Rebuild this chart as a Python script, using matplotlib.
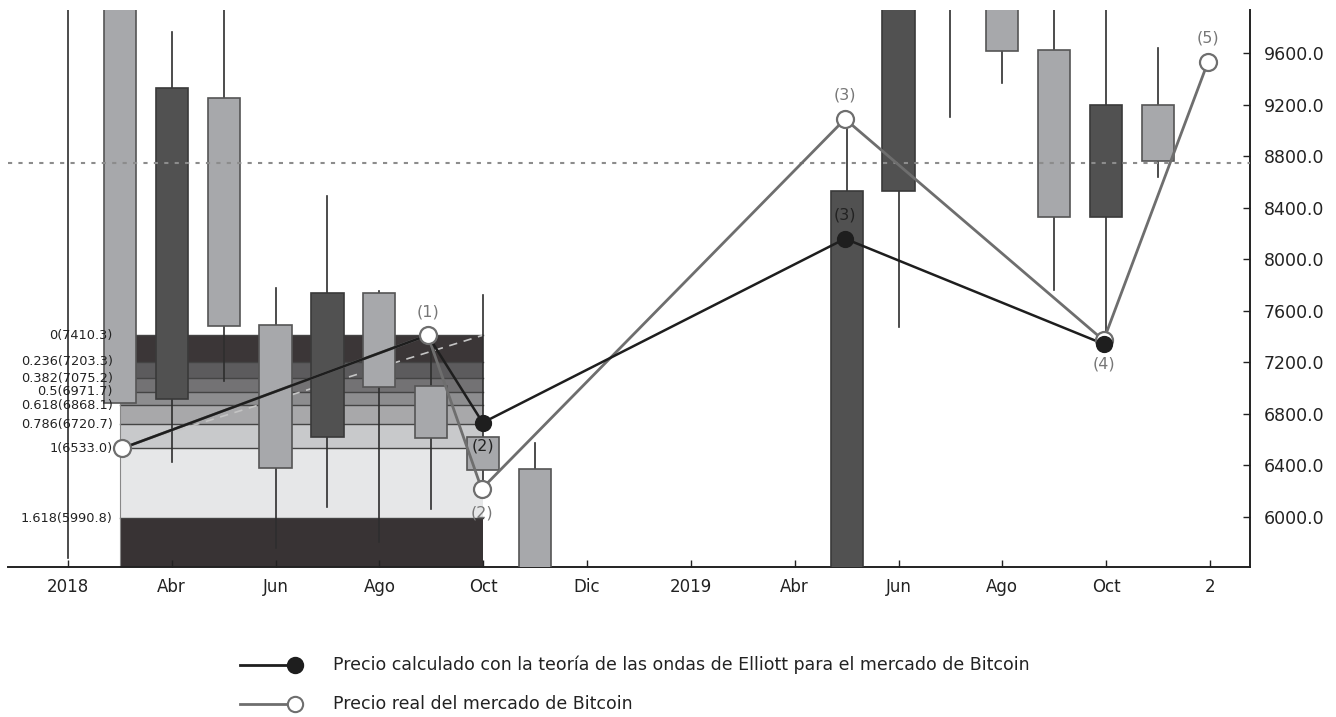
import matplotlib.pyplot as plt
from matplotlib.lines import Line2D
from matplotlib.patches import Rectangle

# monthly candles, index 0 = first month on the axis
opens = [10221, 10397, 6915, 9248, 7489, 6618, 7735, 7018, 6622, 6375, 4017,
         3742, 3460, 3850, 4100, 5350, 8529, 10820, 10080, 9626, 8325, 9196]
highs = [11958, 11700, 9763, 10020, 7776, 8493, 7756, 7410, 7722, 6574, 4300,
         4100, 4200, 4150, 5600, 9090, 13800, 13100, 12300, 10900, 10370, 9640]
lows = [5680, 6886, 6429, 7055, 5761, 6073, 5808, 6060, 6200, 3650, 3200,
        3350, 3400, 3700, 4050, 5330, 7476, 9106, 9365, 7761, 7330, 8640]
closes = [10397, 6886, 9331, 7482, 6382, 7740, 7006, 6612, 6364, 4017, 3742,
          3460, 3850, 4100, 5350, 8529, 10820, 10080, 9616, 8325, 9196, 8762]

tick_pos = [0, 2, 4, 6, 8, 10, 12, 14, 16, 18, 20, 22]
tick_labels = ["2018", "Abr", "Jun", "Ago", "Oct", "Dic", "2019", "Abr", "Jun", "Ago", "Oct", "2"]
y_ticks = [6000, 6400, 6800, 7200, 7600, 8000, 8400, 8800, 9200, 9600]

# fibonacci retracement drawn between candle 1 and candle 8
fib_ratios = ["0", "0.236", "0.382", "0.5", "0.618", "0.786", "1", "1.618"]
fib_levels = [7410.3, 7203.3, 7075.2, 6971.7, 6868.1, 6720.7, 6533.0, 5990.8]
fib_colors = ["#3b3637", "#5c5b5d", "#737274", "#8d8d8f", "#a8a8aa", "#c8c9cb", "#e6e7e8", "#383334"]
fib_start, fib_end = 1, 8

ref_level = 8750

# Elliott wave points
calc_x = [1.05, 6.93, 7.99, 14.97, 19.95]
calc_y = [6533.0, 7410.3, 6731, 8159, 7342]
real_x = [1.05, 6.93, 7.97, 14.97, 19.95, 21.96]
real_y = [6533.0, 7410.3, 6217, 9088, 7370, 9530]
real_labels = ["", "(1)", "(2)", "(3)", "(4)", "(5)"]
calc_labels = ["", "", "(2)", "(3)", ""]

YLIM = (5611, 9934)
XLIM = (-1.154, 22.77)

LIGHT, DARK = "#a7a8ab", "#515151"
GREY_LINE = "#6e6e6e"

fig = plt.figure(figsize=(13.36, 7.17), dpi=100)
ax = fig.add_axes([8 / 1336, 1 - 567 / 717, (1250 - 8) / 1336, (567 - 10) / 717])
ax.set_xlim(*XLIM)
ax.set_ylim(*YLIM)

# fib bands
bounds = fib_levels + [YLIM[0]]
for i in range(len(fib_levels)):
    ax.fill_between([fib_start, fib_end], bounds[i + 1], bounds[i],
                    color=fib_colors[i], lw=0, zorder=1)
    ax.plot([fib_start, fib_end], [fib_levels[i]] * 2, color="#444444", lw=1, zorder=1.5)
    ax.annotate(f"{fib_ratios[i]}({fib_levels[i]:.1f})", (fib_start, fib_levels[i]),
                xytext=(-5, 0), textcoords="offset points", ha="right", va="center",
                fontsize=9.3, color="#222222", zorder=6)
ax.plot([fib_start, fib_start], [YLIM[0], fib_levels[0]], color="#888888", lw=0.8, zorder=1.5)
ax.plot([fib_start, fib_end], [fib_levels[6], fib_levels[0]], color="#c4c4c4",
        lw=1.2, ls=(0, (5, 4)), zorder=2)

# candles
w = 0.62
for k in range(len(opens)):
    o, h, l, c = opens[k], highs[k], lows[k], closes[k]
    top, bot = max(o, c), min(o, c)
    up = c > o
    ax.plot([k, k], [top, h], color="#2e2e2e", lw=1.2, zorder=2.8)
    ax.plot([k, k], [l, bot], color="#2e2e2e", lw=1.2, zorder=2.8)
    ax.add_patch(Rectangle((k - w / 2, bot), w, top - bot,
                           facecolor=DARK if up else LIGHT,
                           edgecolor="#3a3a3a" if up else "#555555",
                           lw=1.2, zorder=3))

ax.axhline(ref_level, color="#8c8c8c", lw=1.5, ls=(0, (2, 3)), zorder=3.5)

# wave lines
ax.plot(real_x, real_y, color=GREY_LINE, lw=2, zorder=4)
ax.plot(calc_x, calc_y, color="#1e1e1e", lw=1.8, zorder=4.5)
ax.scatter(real_x, real_y, s=150, facecolor="white", edgecolor=GREY_LINE, lw=1.6, zorder=5)
ax.scatter(calc_x[2:], calc_y[2:], s=130, facecolor="#1e1e1e", edgecolor="#1e1e1e", zorder=6)

for x, y, lab in zip(real_x, real_y, real_labels):
    if not lab:
        continue
    dy = -17 if lab in ("(2)", "(4)") else 17
    ax.annotate(lab, (x, y), xytext=(0, dy), textcoords="offset points",
                ha="center", va="center", fontsize=11.5, color="#777777", zorder=7)
for x, y, lab in zip(calc_x, calc_y, calc_labels):
    if not lab:
        continue
    dy = -17 if lab == "(2)" else 17
    ax.annotate(lab, (x, y), xytext=(0, dy), textcoords="offset points",
                ha="center", va="center", fontsize=11.5, color="#222222", zorder=7)

# axes styling
for side in ("top", "left"):
    ax.spines[side].set_visible(False)
for side in ("bottom", "right"):
    ax.spines[side].set_linewidth(1.4)
    ax.spines[side].set_color("#222222")
ax.yaxis.tick_right()
ax.set_yticks(y_ticks)
ax.set_yticklabels([f"{v:.1f}" for v in y_ticks])
ax.set_xticks(tick_pos)
ax.set_xticklabels(tick_labels)
ax.tick_params(axis="both", direction="in", length=5, width=1, colors="#222222",
               labelsize=12, pad=8)
ax.tick_params(axis="y", labelsize=12.5, pad=10)

# legend drawn below the chart
rows = [
    (665, "#1e1e1e", "#1e1e1e", "Precio calculado con la teoría de las ondas de Elliott para el mercado de Bitcoin"),
    (704, GREY_LINE, "white", "Precio real del mercado de Bitcoin"),
]
for ypx, lc, fc, text in rows:
    yf = 1 - ypx / 717
    fig.add_artist(Line2D([240 / 1336, 292 / 1336], [yf, yf], color=lc, lw=2,
                          transform=fig.transFigure))
    fig.add_artist(Line2D([295 / 1336], [yf], marker="o", ms=11, mfc=fc, mec=lc,
                          mew=1.5, transform=fig.transFigure))
    fig.text(333 / 1336, yf, text, fontsize=12.5, color="#222222", va="center")

fig.savefig("out.png", dpi=100)
